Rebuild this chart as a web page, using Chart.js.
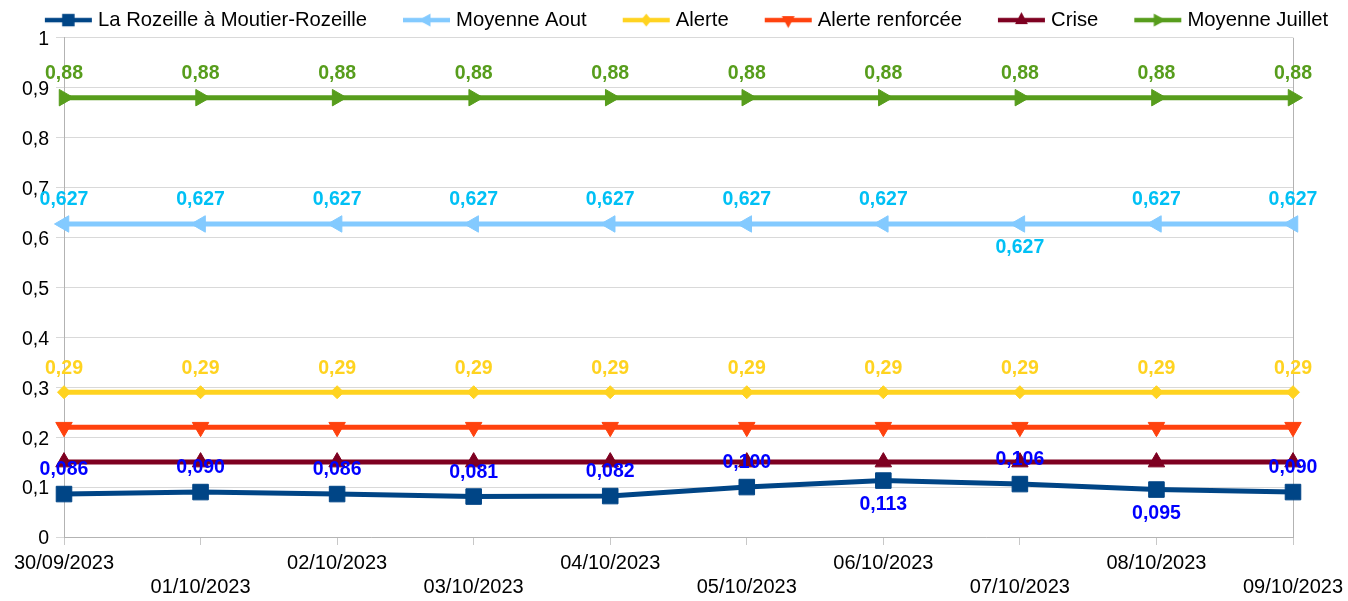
<!DOCTYPE html>
<html>
<head>
<meta charset="utf-8">
<script src="https://cdn.jsdelivr.net/npm/chart.js@4/dist/chart.umd.min.js"></script>
<style>
html, body { margin: 0; padding: 0; background: #fff; }
#wrap { width: 1348px; height: 601px; position: relative; }
</style>
</head>
<body>
<div id="wrap"><canvas id="debits"></canvas></div>
<script>
var dates = ["30/09/2023", "01/10/2023", "02/10/2023", "03/10/2023", "04/10/2023",
             "05/10/2023", "06/10/2023", "07/10/2023", "08/10/2023", "09/10/2023"]
var rozeille = [0.086, 0.090, 0.086, 0.081, 0.082, 0.100, 0.113, 0.106, 0.095, 0.090]
var moyenneAout = [0.627, 0.627, 0.627, 0.627, 0.627, 0.627, 0.627, 0.627, 0.627, 0.627]
var alerte = [0.29, 0.29, 0.29, 0.29, 0.29, 0.29, 0.29, 0.29, 0.29, 0.29]
var alerteRenforcee = [0.22, 0.22, 0.22, 0.22, 0.22, 0.22, 0.22, 0.22, 0.22, 0.22]
var crise = [0.15, 0.15, 0.15, 0.15, 0.15, 0.15, 0.15, 0.15, 0.15, 0.15]
var moyenneJuillet = [0.88, 0.88, 0.88, 0.88, 0.88, 0.88, 0.88, 0.88, 0.88, 0.88]

// which value labels sit under their point instead of over it
var rozeilleBelow = [false, false, false, false, false, false, true, false, true, false]
var aoutBelow = [false, false, false, false, false, false, false, true, false, false]

var FONT = '"Liberation Sans", Arial, sans-serif'

function comma(v, d) {
    return v.toFixed(d).replace('.', ',')
}

// small marker painter used for the legend icons
function drawMarker(ctx, style, rot, r, x, y) {
    ctx.save()
    ctx.translate(x, y)
    ctx.rotate(rot * Math.PI / 180)
    ctx.beginPath()
    if (style == 'rect') {
        var s = r * Math.SQRT1_2
        ctx.rect(-s, -s, 2 * s, 2 * s)
    } else if (style == 'rectRot') {
        ctx.moveTo(0, -r); ctx.lineTo(r * 0.8, 0); ctx.lineTo(0, r); ctx.lineTo(-r * 0.8, 0)
    } else {
        ctx.moveTo(0, -r)
        ctx.lineTo(r * 0.8, r * 0.5)
        ctx.lineTo(-r * 0.8, r * 0.5)
    }
    ctx.closePath()
    ctx.fill()
    ctx.restore()
}

function legendIcon(color, style, rot, r) {
    var c = document.createElement('canvas')
    c.width = 72
    c.height = 22
    var ctx = c.getContext('2d')
    ctx.strokeStyle = color
    ctx.fillStyle = color
    ctx.lineWidth = 4.3
    ctx.beginPath()
    ctx.moveTo(24, 11)
    ctx.lineTo(71, 11)
    ctx.stroke()
    drawMarker(ctx, style, rot, r, 47.5, 11)
    return c
}

function serie(label, data, color, style, rot, radius, legendR, extra) {
    var ds = {
        label: label,
        data: data,
        borderColor: color,
        backgroundColor: color,
        borderWidth: 5,
        tension: 0,
        pointStyle: style,
        rotation: rot,
        pointRadius: radius,
        pointHoverRadius: radius,
        pointBorderWidth: 1,
        pointBackgroundColor: color,
        pointBorderColor: color,
        icon: legendIcon(color, style, rot, legendR)
    }
    for (var k in extra) ds[k] = extra[k]
    return ds
}

var valueLabels = {
    id: 'valueLabels',
    afterDatasetsDraw: function (chart) {
        var ctx = chart.ctx
        chart.data.datasets.forEach(function (ds, i) {
            if (!ds.labelColor) return
            var meta = chart.getDatasetMeta(i)
            ctx.save()
            ctx.font = 'bold 19.5px ' + FONT
            ctx.fillStyle = ds.labelColor
            ctx.textAlign = 'center'
            ctx.textBaseline = 'middle'
            meta.data.forEach(function (pt, j) {
                var below = ds.labelBelow && ds.labelBelow[j]
                ctx.fillText(comma(ds.data[j], ds.decimals), pt.x, pt.y + (below ? 24 : -24))
            })
            ctx.restore()
        })
    }
}

var rightBorder = {
    id: 'rightBorder',
    beforeDatasetsDraw: function (chart) {
        var a = chart.chartArea
        var ctx = chart.ctx
        var x = Math.round(a.right) + 0.5
        ctx.save()
        ctx.strokeStyle = '#b3b3b3'
        ctx.lineWidth = 1
        ctx.beginPath()
        ctx.moveTo(x, a.top)
        ctx.lineTo(x, a.bottom)
        ctx.stroke()
        ctx.restore()
    }
}

// the legend row sits a little lower and further right in the original
var legendNudge = {
    id: 'legendNudge',
    afterLayout: function (chart) {
        var l = chart.legend
        if (!l) return
        l.top += 2.5
        l.bottom += 2.5
        l.left += 3
        l.right += 3
    }
}

var ctx = document.getElementById("debits")
var chart = new Chart(ctx, {
    type: 'line',
    data: {
        labels: dates,
        datasets: [
            serie("La Rozeille à Moutier-Rozeille", rozeille, "#004586", 'rect', 0, 11, 8.8,
                  { labelColor: '#0000ff', decimals: 3, labelBelow: rozeilleBelow }),
            serie("Moyenne Aout", moyenneAout, "#83caff", 'triangle', -90, 9.5, 8,
                  { labelColor: '#00c0f5', decimals: 3, labelBelow: aoutBelow }),
            serie("Alerte", alerte, "#ffd320", 'rectRot', 0, 6.5, 6.5,
                  { labelColor: '#ffd320', decimals: 2 }),
            serie("Alerte renforcée", alerteRenforcee, "#ff420e", 'triangle', 180, 9.5, 8, {}),
            serie("Crise", crise, "#7e0021", 'triangle', 0, 9.5, 8, {}),
            serie("Moyenne Juillet", moyenneJuillet, "#579d1c", 'triangle', 90, 9.5, 8,
                  { labelColor: '#579d1c', decimals: 2 })
        ]
    },
    options: {
        responsive: true,
        maintainAspectRatio: false,
        animation: false,
        layout: { padding: { top: -9.5, left: 0, right: 0, bottom: 0 } },
        plugins: {
            tooltip: { enabled: false },
            legend: {
                position: 'top',
                labels: {
                    usePointStyle: true,
                    pointStyleWidth: 62,
                    padding: 17,
                    color: '#000',
                    font: { family: FONT, size: 20.25 },
                    generateLabels: function (chart) {
                        return chart.data.datasets.map(function (ds, i) {
                            return {
                                text: ds.label,
                                datasetIndex: i,
                                pointStyle: ds.icon,
                                fillStyle: ds.borderColor,
                                strokeStyle: ds.borderColor,
                                lineWidth: 0,
                                hidden: false,
                                rotation: 0
                            }
                        })
                    }
                }
            }
        },
        scales: {
            x: {
                afterFit: function (scale) {
                    scale.height = 64
                    scale.paddingRight = 55
                },
                grid: { drawOnChartArea: false, drawTicks: true, tickLength: 8, color: '#c8c8c8' },
                border: { color: '#b3b3b3' },
                ticks: {
                    autoSkip: false,
                    maxRotation: 0,
                    minRotation: 0,
                    padding: 6,
                    color: '#000',
                    font: { family: FONT, size: 20 },
                    callback: function (value, index) {
                        var d = dates[index]
                        return index % 2 == 0 ? [d] : ['', d]
                    }
                }
            },
            y: {
                min: 0,
                max: 1,
                afterFit: function (scale) {
                    scale.width = 64
                },
                grid: { color: '#d9d9d9', tickLength: 8 },
                border: { color: '#b3b3b3' },
                ticks: {
                    stepSize: 0.1,
                    padding: 7,
                    labelOffset: 2,
                    color: '#000',
                    font: { family: FONT, size: 19.5 },
                    callback: function (value) {
                        return String(Number(value.toFixed(1))).replace('.', ',')
                    }
                }
            }
        }
    },
    plugins: [valueLabels, rightBorder, legendNudge]
})
</script>
</body>
</html>
